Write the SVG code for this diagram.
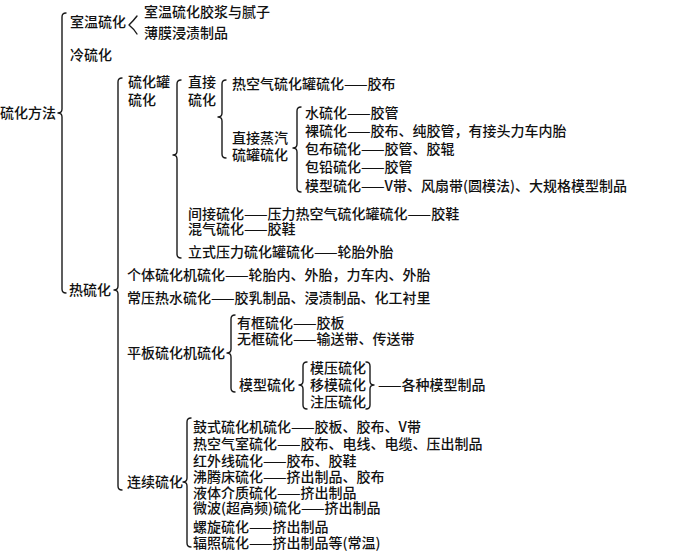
<svg xmlns="http://www.w3.org/2000/svg" width="674" height="559" viewBox="0 0 674 559">
<style>
text{font-family:"Noto Sans CJK SC","Noto Sans",sans-serif;font-size:14px;font-weight:500;fill:#111;}
.br{fill:none;stroke:#1a1a1a;stroke-width:1.4;stroke-linecap:round;stroke-linejoin:round;}
</style>
<rect width="674" height="559" fill="#fff"/>
<g id="connectors">
<path class="br" d="M66 13 Q62 13 62 17 L62 109 Q62 113 58 113 Q62 113 62 117 L62 289 Q62 293 66 293"/>
<path class="br" d="M137 16 Q134 20 129 25 Q134 29 137 34"/>
<path class="br" d="M122 78 Q118 78 118 82 L118 286 Q118 290 114 290 Q118 290 118 294 L118 486 Q118 490 122 490"/>
<path class="br" d="M181 80 Q177 80 177 84 L177 151 Q177 155 173 155 Q177 155 177 159 L177 254 Q177 258 181 258"/>
<path class="br" d="M226 80 Q222 80 222 84 L222 113 Q222 117 218 117 Q222 117 222 121 L222 154 Q222 158 226 158"/>
<path class="br" d="M301 107 Q297 107 297 111 L297 144 Q297 148 293 148 Q297 148 297 152 L297 188 Q297 192 301 192"/>
<path class="br" d="M235 315 Q231 315 231 319 L231 349 Q231 353 227 353 Q231 353 231 357 L231 388 Q231 392 235 392"/>
<path class="br" d="M307 362 Q303 362 303 366 L303 381 Q303 385 299 385 Q303 385 303 389 L303 405 Q303 409 307 409"/>
<path class="br" d="M366 362 Q370 362 370 366 L370 381 Q370 385 374 385 Q370 385 370 389 L370 405 Q370 409 366 409"/>
<path class="br" d="M191 418 Q187 418 187 422 L187 478 Q187 482 183 482 Q187 482 187 486 L187 543 Q187 547 191 547"/>
</g>
<g id="root"><text x="0" y="118">硫化方法</text></g>
<g id="shiwen"><text x="70" y="27">室温硫化</text></g>
<g id="shiwen-1"><text x="144" y="17">室温硫化胶浆与腻子</text></g>
<g id="shiwen-2"><text x="144" y="38">薄膜浸渍制品</text></g>
<g id="leng"><text x="70" y="60">冷硫化</text></g>
<g id="re"><text x="69" y="295">热硫化</text></g>
<g id="guan"><text x="128" y="87">硫化罐</text><text x="128" y="105">硫化</text></g>
<g id="zhijie"><text x="188" y="87">直接</text><text x="188" y="105">硫化</text></g>
<g id="rekongqi"><text x="232" y="89">热空气硫化罐硫化——胶布</text></g>
<g id="zhengqi"><text x="232" y="143">直接蒸汽</text><text x="232" y="160">硫罐硫化</text></g>
<g id="shui"><text x="305" y="118">水硫化——胶管</text></g>
<g id="luo"><text x="305" y="136">裸硫化——胶布、纯胶管，有接头力车内胎</text></g>
<g id="baobu"><text x="305" y="154">包布硫化——胶管、胶辊</text></g>
<g id="baoqian"><text x="305" y="172">包铅硫化——胶管</text></g>
<g id="moxing1"><text x="305" y="191">模型硫化——V带、风扇带(圆模法)、大规格模型制品</text></g>
<g id="jianjie"><text x="188" y="219">间接硫化——压力热空气硫化罐硫化——胶鞋</text></g>
<g id="hunqi"><text x="188" y="234">混气硫化——胶鞋</text></g>
<g id="lishi"><text x="188" y="257">立式压力硫化罐硫化——轮胎外胎</text></g>
<g id="geti"><text x="127" y="280">个体硫化机硫化——轮胎内、外胎，力车内、外胎</text></g>
<g id="changya"><text x="127" y="303">常压热水硫化——胶乳制品、浸渍制品、化工衬里</text></g>
<g id="pingban"><text x="127" y="358">平板硫化机硫化</text></g>
<g id="youkuang"><text x="237" y="328">有框硫化——胶板</text></g>
<g id="wukuang"><text x="237" y="344">无框硫化——输送带、传送带</text></g>
<g id="moxing2"><text x="239" y="390">模型硫化</text></g>
<g id="moya"><text x="310" y="373">模压硫化</text></g>
<g id="yimo"><text x="310" y="390">移模硫化</text></g>
<g id="zhuya"><text x="310" y="407">注压硫化</text></g>
<g id="gezhong"><text x="378" y="390">——各种模型制品</text></g>
<g id="lianxu"><text x="127" y="487">连续硫化</text></g>
<g id="c1"><text x="193" y="432">鼓式硫化机硫化——胶板、胶布、V带</text></g>
<g id="c2"><text x="193" y="449">热空气室硫化——胶布、电线、电缆、压出制品</text></g>
<g id="c3"><text x="193" y="466">红外线硫化——胶布、胶鞋</text></g>
<g id="c4"><text x="193" y="482">沸腾床硫化——挤出制品、胶布</text></g>
<g id="c5"><text x="193" y="498">液体介质硫化——挤出制品</text></g>
<g id="c6"><text x="193" y="513">微波(超高频)硫化——挤出制品</text></g>
<g id="c7"><text x="193" y="532">螺旋硫化——挤出制品</text></g>
<g id="c8"><text x="193" y="548">辐照硫化——挤出制品等(常温)</text></g>
</svg>
